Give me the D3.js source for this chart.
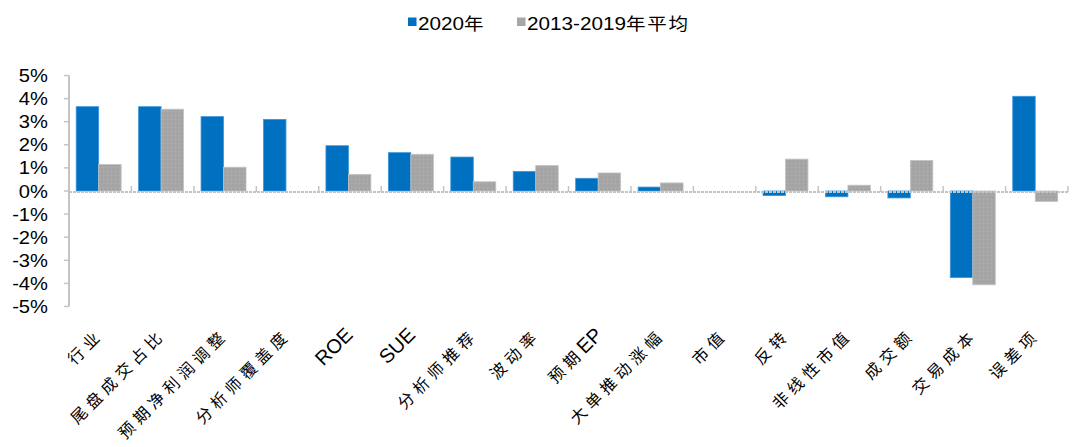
<!DOCTYPE html>
<html><head><meta charset="utf-8">
<script src="https://cdn.jsdelivr.net/npm/d3@7"></script>
<style>
body{margin:0;background:#fff;}
svg{display:block;}
</style></head>
<body>
<svg id="chart" width="1080" height="447"></svg>
<script>
const categories = ['行业','尾盘成交占比','预期净利润调整','分析师覆盖度','ROE','SUE','分析师推荐','波动率','预期EP','大单推动涨幅','市值','反转','非线性市值','成交额','交易成本','误差项'];
const series2020 = [3.65,3.65,3.22,3.10,1.96,1.66,1.47,0.85,0.55,0.17,0,-0.20,-0.25,-0.30,-3.75,4.10];
const seriesAvg = [1.15,3.54,1.03,0,0.72,1.59,0.40,1.10,0.78,0.35,0,1.38,0.25,1.32,-4.06,-0.45];
const seriesNames = ['2020年','2013-2019年平均'];
const yTicks = [5,4,3,2,1,0,-1,-2,-3,-4,-5];

const svg = d3.select('#chart');
const BLUE = '#0070C0', GRAY = '#A6A6A6', AXIS = '#C4C4C4';
const cjkFont = '"Noto Sans CJK SC", sans-serif';
const latFont = '"Liberation Sans", Arial, sans-serif';

const defs = svg.append('defs');
const pat = defs.append('pattern').attr('id','dots').attr('patternUnits','userSpaceOnUse')
  .attr('width',4).attr('height',4);
pat.append('rect').attr('width',4).attr('height',4).attr('fill',GRAY);
pat.append('rect').attr('x',1).attr('y',1).attr('width',1).attr('height',1).attr('fill','#9a9a9a');
pat.append('rect').attr('x',3).attr('y',3).attr('width',1).attr('height',1).attr('fill','#b0b0b0');

const x = d3.scaleBand().domain(categories).range([69,1068]).padding(0);
const y = d3.scaleLinear().domain([-5,5]).range([306.5,75.5]);
const bw = x.bandwidth();
const barW = bw*0.36, off = bw*0.115;

// bars
const g = svg.append('g');
g.selectAll('rect.b1').data(categories).enter().append('rect')
  .attr('x',(d)=>x(d)+off)
  .attr('y',(d,i)=>y(Math.max(0,series2020[i])))
  .attr('width',barW)
  .attr('height',(d,i)=>Math.abs(y(series2020[i])-y(0)))
  .attr('fill',BLUE).attr('stroke','#3d95da').attr('stroke-width',0.8)
  .style('display',(d,i)=>series2020[i]===0?'none':null);
g.selectAll('rect.b2').data(categories).enter().append('rect')
  .attr('x',(d)=>x(d)+off+barW)
  .attr('y',(d,i)=>y(Math.max(0,seriesAvg[i])))
  .attr('width',barW)
  .attr('height',(d,i)=>Math.abs(y(seriesAvg[i])-y(0)))
  .attr('fill','url(#dots)').attr('stroke','#c2c2c2').attr('stroke-width',0.8)
  .style('display',(d,i)=>seriesAvg[i]===0?'none':null);

// y axis
svg.append('line').attr('x1',69).attr('x2',69).attr('y1',y(5)).attr('y2',y(-5))
  .attr('stroke',AXIS).attr('stroke-width',2);
svg.selectAll('line.yt').data(yTicks).enter().append('line')
  .attr('x1',64).attr('x2',69).attr('y1',d=>y(d)).attr('y2',d=>y(d))
  .attr('stroke',AXIS).attr('stroke-width',1.5);
svg.selectAll('text.yl').data(yTicks).enter().append('text')
  .attr('transform',d=>`translate(48,${y(d)+6.5}) scale(1.12,1)`)
  .attr('text-anchor','end')
  .attr('font-family',latFont).attr('font-size',18).attr('fill','#000')
  .text(d=>d+'%');

// zero axis
svg.append('line').attr('x1',69).attr('x2',1068).attr('y1',y(0)+1).attr('y2',y(0)+1)
  .attr('stroke',AXIS).attr('stroke-width',2).attr('stroke-dasharray','3,1');
const bounds = categories.map(c=>x(c)+bw);
svg.selectAll('line.xt').data(bounds).enter().append('line')
  .attr('x1',d=>d).attr('x2',d=>d).attr('y1',y(0)-5).attr('y2',y(0)+1)
  .attr('stroke',AXIS).attr('stroke-width',1.5);

// x labels
function runs(s){
  const out=[]; let cur=null;
  for(const ch of s){
    const cjk = /[\u3000-\u9fff]/.test(ch);
    if(!cur||cur.cjk!==cjk){cur={cjk,t:''};out.push(cur);}
    cur.t+=ch;
  }
  return out;
}
categories.forEach(c=>{
  const cx = x(c)+bw/2+4;
  const t = svg.append('text')
    .attr('transform',`translate(${cx},336) rotate(-45)`)
    .attr('text-anchor','end').attr('fill','#000');
  runs(c).forEach(r=>{
    t.append('tspan').text(r.t)
      .attr('font-family',r.cjk?cjkFont:latFont)
      .attr('font-size',r.cjk?16:20)
      .attr('letter-spacing',r.cjk?'5px':'0px');
  });
});

// legend
const legend = [
  {name:seriesNames[0], fill:BLUE, x:408},
  {name:seriesNames[1], fill:GRAY, x:517}
];
legend.forEach(l=>{
  svg.append('rect').attr('x',l.x).attr('y',17.5).attr('width',8.5).attr('height',8.5).attr('fill',l.fill);
  const t = svg.append('text').attr('transform',`translate(${l.x+10},29.5) scale(1.15,1)`)
    .attr('fill','#000').attr('font-size',18);
  runs(l.name).forEach(r=>{
    t.append('tspan').text(r.t).attr('font-family',r.cjk?cjkFont:latFont)
      .attr('font-size',r.cjk?17:18)
      .attr('letter-spacing',r.cjk?'1.5px':'0px');
  });
});
</script>
</body></html>
